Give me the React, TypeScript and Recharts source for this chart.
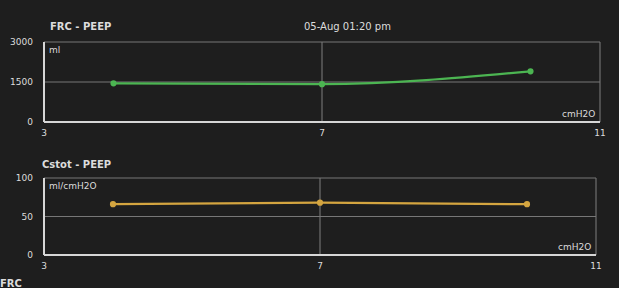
import { LineChart, Line, XAxis, YAxis, CartesianGrid } from 'recharts'

// PEEP steps (cmH2O)
const peep = [4, 7, 10]
const frcValues = [1450, 1420, 1900] // ml
const cstotValues = [66, 68, 66] // ml/cmH2O
const xTicks = [3, 7, 11]
const frcTicks = [0, 1500, 3000]
const cstotTicks = [0, 50, 100]

const frcData = peep.map((p, i) => ({ peep: p, frc: frcValues[i] }))
const cstotData = peep.map((p, i) => ({ peep: p, cstot: cstotValues[i] }))

const BG = '#1e1e1e'
const GRID = '#777777'
const AXIS = '#d6d6d6'
const TXT = '#dcdcdc'
const FONT = '"DejaVu Sans", sans-serif'

const tickStyle = { fill: TXT, fontSize: 9, fontFamily: FONT }

function Panel({
  data,
  dataKey,
  ticks,
  domain,
  color,
  margin,
}: {
  data: any[]
  dataKey: string
  ticks: number[]
  domain: [number, number]
  color: string
  margin: { top: number; right: number; left: number; bottom: number }
}) {
  return (
    <LineChart width={619} height={140} data={data} margin={margin}>
      <CartesianGrid stroke={GRID} strokeWidth={1.1} horizontalValues={ticks} verticalValues={xTicks} />
      <XAxis
        dataKey="peep"
        type="number"
        domain={[3, 11]}
        ticks={xTicks}
        height={14}
        stroke={AXIS}
        strokeWidth={2}
        tickLine={false}
        tick={tickStyle}
        tickMargin={2}
      />
      <YAxis
        type="number"
        domain={domain}
        ticks={ticks}
        width={44}
        stroke={AXIS}
        strokeWidth={2}
        tickLine={false}
        tick={tickStyle}
        tickMargin={5}
      />
      <Line
        type="monotone"
        dataKey={dataKey}
        stroke={color}
        strokeWidth={2.2}
        dot={{ r: 2, fill: color, stroke: color }}
        isAnimationActive={false}
      />
    </LineChart>
  )
}

const label = (text: string, left: number, top: number, extra: any = {}) => (
  <div
    style={{
      position: 'absolute',
      left,
      top,
      color: TXT,
      fontFamily: FONT,
      fontSize: 9,
      lineHeight: 1,
      whiteSpace: 'nowrap',
      ...extra,
    }}
  >
    {text}
  </div>
)

export default function App() {
  return (
    <div
      style={{
        position: 'absolute',
        left: 0,
        top: 0,
        width: 619,
        height: 288,
        overflow: 'hidden',
        background: BG,
      }}
    >
      <div style={{ position: 'absolute', left: 0, top: 0 }}>
        <Panel
          data={frcData}
          dataKey="frc"
          ticks={frcTicks}
          domain={[0, 3000]}
          color="#4cb552"
          margin={{ top: 42, right: 19, left: 0, bottom: 4 }}
        />
      </div>
      <div style={{ position: 'absolute', left: 0, top: 140 }}>
        <Panel
          data={cstotData}
          dataKey="cstot"
          ticks={cstotTicks}
          domain={[0, 100]}
          color="#d4a540"
          margin={{ top: 38, right: 23, left: 0, bottom: 11 }}
        />
      </div>
      {label('FRC - PEEP', 50, 22, { fontWeight: 'bold', fontSize: 10 })}
      {label('05-Aug 01:20 pm', 304, 22, { fontSize: 10 })}
      {label('ml', 49, 46)}
      {label('cmH2O', 562, 110)}
      {label('Cstot - PEEP', 42, 160, { fontWeight: 'bold', fontSize: 10 })}
      {label('ml/cmH2O', 49, 182)}
      {label('cmH2O', 558, 243)}
      {label('FRC', 0, 279, { fontWeight: 'bold', fontSize: 10 })}
    </div>
  )
}
